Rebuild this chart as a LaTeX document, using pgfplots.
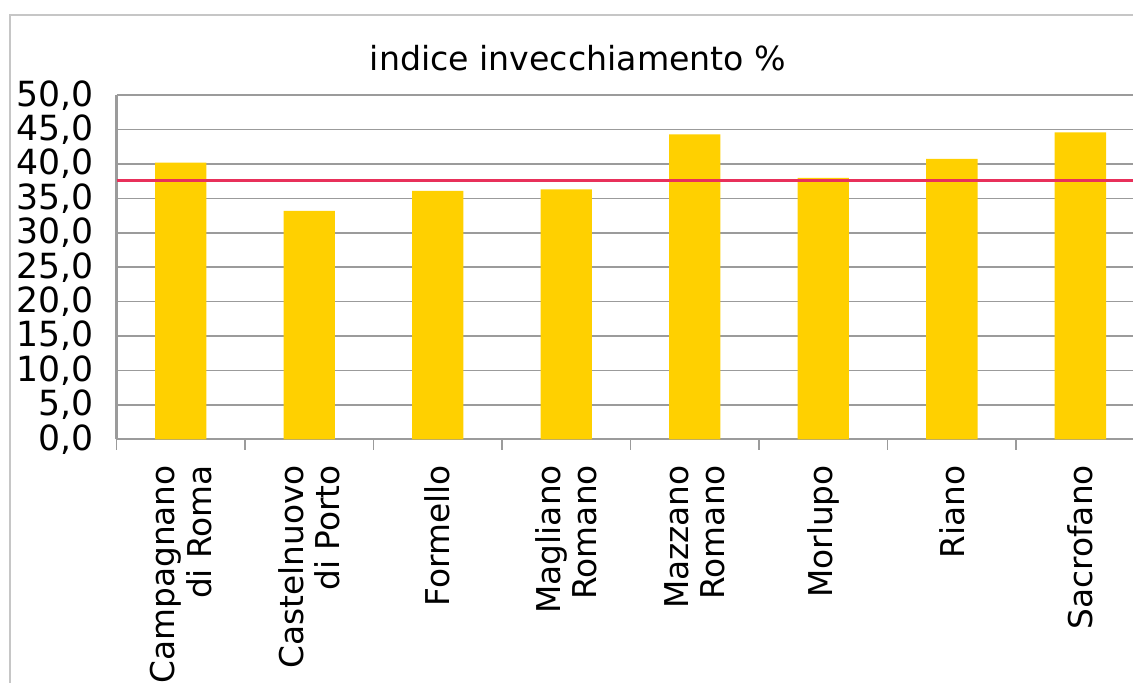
\documentclass[border=0pt]{standalone}
\usepackage{pgfplots}
\pgfplotsset{compat=1.18}
\usepackage{fontspec}
\setmainfont{DejaVu Sans}
\definecolor{barc}{RGB}{255,208,0}
\definecolor{redl}{RGB}{232,48,90}
\definecolor{gridc}{RGB}{155,155,155}
\begin{document}
\begin{tikzpicture}
\path[use as bounding box] (0,0) rectangle (425pt,256.2pt);
\draw[gray!45, line width=0.6pt] (3.8pt,0pt) -- (3.8pt,250.5pt) -- (425pt,250.5pt);
\node[font=\fontsize{12.45}{14}\selectfont] at (216.8pt,234.4pt) {indice invecchiamento \%};
\begin{axis}[
  at={(43.7pt,91.4pt)}, anchor=south west,
  width=381.3pt, height=129.1pt, scale only axis,
  ymin=0, ymax=50, ytick={0,5,...,50},
  xmin=-0.5, xmax=7.41,
  xtick={0,...,7},
  xticklabels={{Campagnano\\di Roma},{Castelnuovo\\di Porto},Formello,{Magliano\\Romano},{Mazzano\\Romano},Morlupo,Riano,Sacrofano},
  x tick label style={rotate=90, anchor=east, align=right, font=\fontsize{12.3}{13.8}\selectfont, inner sep=1pt},
  xticklabel shift=8.5pt,
  minor xtick={-0.5,0.5,...,7.5},
  major tick length=0pt, minor tick length=4pt,
  tick align=outside,
  y tick label style={font=\fontsize{13}{14}\selectfont},
  yticklabel style={/pgf/number format/.cd, fixed, fixed zerofill, precision=1, use comma, assume math mode=true},
  yticklabel shift=5pt,
  axis x line*=bottom, axis y line*=left,
  axis line style={gridc, line width=0.8pt},
  every tick/.style={gridc, line width=0.6pt},
  ymajorgrids, grid style={gridc, line width=0.6pt},
  ybar, bar width=0.4,
  clip=false,
]
\addplot[draw=none, fill=barc] coordinates {(0,40.2) (1,33.2) (2,36.1) (3,36.3) (4,44.3) (5,38.0) (6,40.75) (7,44.6)};
\draw[redl, line width=0.9pt] (axis cs:-0.5,37.6) -- (axis cs:7.41,37.6);
\end{axis}
\end{tikzpicture}
\end{document}
